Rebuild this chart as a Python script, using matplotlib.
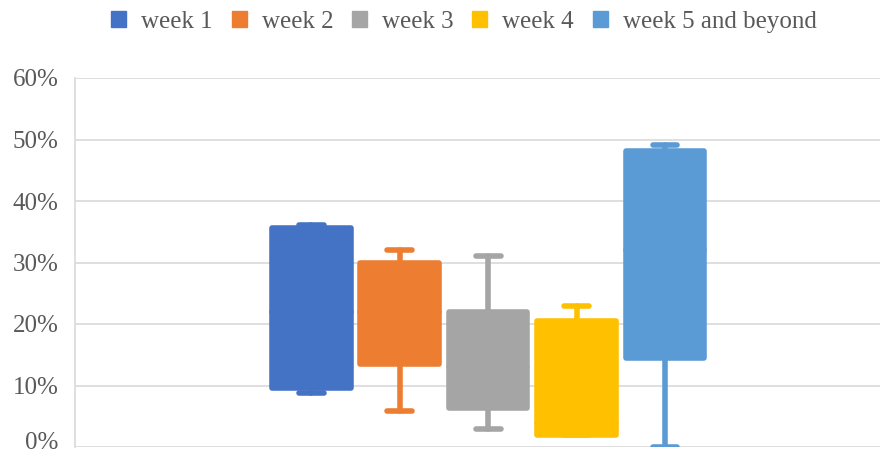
import matplotlib.pyplot as plt
import matplotlib.transforms as mtransforms
from matplotlib.patches import Patch
from matplotlib.ticker import PercentFormatter

series = ["week 1", "week 2", "week 3", "week 4", "week 5 and beyond"]
colors = ["#4472C4", "#ED7D31", "#A5A5A5", "#FFC000", "#5B9BD5"]

# values (fractions)
whislo = [0.088, 0.059, 0.029, 0.020, 0.000]
q1 = [0.096, 0.135, 0.064, 0.020, 0.145]
med = [0.220, 0.220, 0.130, 0.039, 0.320]
q3 = [0.356, 0.300, 0.220, 0.205, 0.481]
whishi = [0.361, 0.320, 0.310, 0.229, 0.491]

plt.rcParams['font.family'] = ['Liberation Serif', 'DejaVu Serif']
txt = "#595959"

fig = plt.figure(figsize=(8.95, 4.58), dpi=100)
ax = fig.add_axes([75 / 895, 11 / 458, 805 / 895, 369 / 458])

for i in range(len(series)):
    st = [dict(whislo=whislo[i], q1=q1[i], med=med[i], q3=q3[i],
               whishi=whishi[i], fliers=[])]
    c = colors[i]
    ax.bxp(st, positions=[i], widths=0.89, patch_artist=True,
           capwidths=0.28, showfliers=False,
           boxprops=dict(facecolor=c, edgecolor=c, linewidth=4,
                         joinstyle='round'),
           whiskerprops=dict(color=c, linewidth=4, solid_capstyle='round'),
           capprops=dict(color=c, linewidth=4, solid_capstyle='round'),
           medianprops=dict(color=c, linewidth=4, solid_capstyle='round'),
           zorder=3)

ax.set_xlim(-2.67, 6.43)
ax.set_ylim(0, 0.6)
ax.set_yticks([0, 0.1, 0.2, 0.3, 0.4, 0.5, 0.6])
ax.yaxis.set_major_formatter(PercentFormatter(1.0, decimals=0))
ax.set_xticks([])
ax.grid(axis='y', color="#D9D9D9", linewidth=1.2, zorder=0)
ax.set_axisbelow(True)
for s in ["top", "right", "bottom"]:
    ax.spines[s].set_visible(False)
ax.spines["left"].set_color("#D9D9D9")
ax.spines["left"].set_linewidth(1.2)
ax.tick_params(axis='y', length=0, pad=12, labelsize=18, labelcolor=txt)

# nudge the 0% label up a bit so it isn't clipped by the bottom edge
lbl0 = ax.get_yticklabels()[0]
lbl0.set_transform(lbl0.get_transform() +
                   mtransforms.ScaledTranslation(0, 5 / 72, fig.dpi_scale_trans))

handles = [Patch(facecolor=c, edgecolor=c) for c in colors]
fig.legend(handles, series, loc='center', bbox_to_anchor=(464 / 895, 1 - 22 / 458),
           ncol=5, frameon=False, fontsize=18, labelcolor=txt,
           handlelength=0.6, handleheight=0.6, handletextpad=0.6,
           columnspacing=0.75)

fig.savefig("out.png", dpi=100)
